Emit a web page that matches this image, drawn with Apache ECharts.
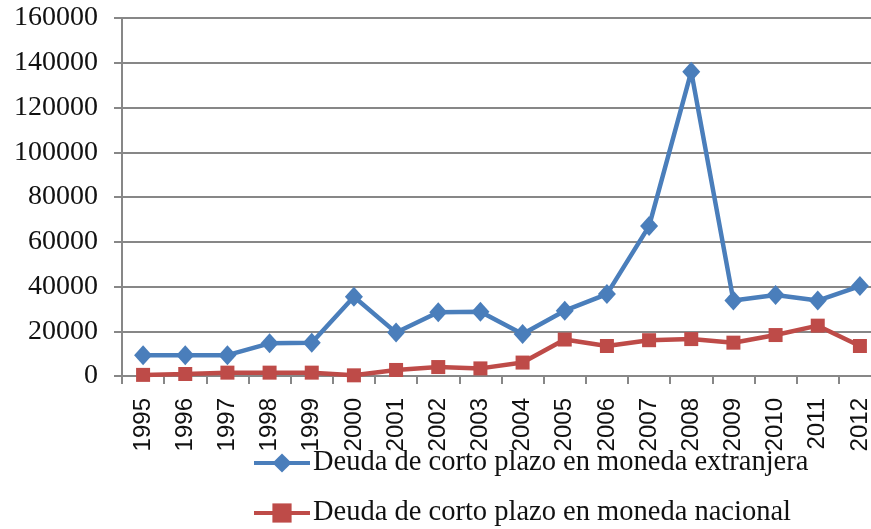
<!DOCTYPE html>
<html>
<head>
<meta charset="utf-8">
<script src="https://cdn.jsdelivr.net/npm/echarts@6/dist/echarts.min.js"></script>
<style>
  html, body { margin: 0; padding: 0; background: #fff; overflow: hidden; }
  #chart { width: 890px; height: 580px; }
</style>
</head>
<body>
<div id="chart"></div>
<script>
const years = ['1995','1996','1997','1998','1999','2000','2001','2002','2003',
  '2004','2005','2006','2007','2008','2009','2010','2011','2012'];
const extranjera = [9300, 9300, 9300, 14600, 14900, 35400, 19400, 28500, 28700,
  18800, 29200, 36600, 67000, 136000, 33700, 36200, 33700, 40200];
const nacional = [500, 900, 1500, 1500, 1500, 300, 2700, 4000, 3400,
  6000, 16300, 13400, 16000, 16500, 14900, 18300, 22500, 13400];
const yTicks = { min: 0, max: 160000, interval: 20000 };

const gray = '#878787';
const chart = echarts.init(document.getElementById('chart'));

chart.setOption({
  animation: false,
  // plot spans x 122..881, y 18..376 (the right edge is cut off by the window)
  grid: { left: 122, top: 18, width: 759, height: 358, containLabel: false },
  legend: {
    orient: 'vertical',
    left: 247,
    top: 443,
    itemWidth: 56,
    itemHeight: 24,
    itemGap: 20,
    selectedMode: false,
    lineStyle: { width: 4 },
    textStyle: { fontFamily: 'Liberation Serif', fontSize: 28.5, lineHeight: 30, color: '#111', padding: [0, 0, 0, -2] },
    data: ['Deuda de corto plazo en moneda extranjera', 'Deuda de corto plazo en moneda nacional']
  },
  xAxis: {
    type: 'category',
    data: years,
    boundaryGap: true,
    axisLine: { lineStyle: { color: gray, width: 2 } },
    axisTick: { show: true, length: 8, lineStyle: { color: gray, width: 2 } },
    axisLabel: {
      rotate: 90,
      margin: 22,
      interval: 0,
      fontFamily: 'Liberation Sans',
      fontSize: 24,
      color: '#111'
    }
  },
  yAxis: {
    type: 'value',
    min: yTicks.min,
    max: yTicks.max,
    interval: yTicks.interval,
    axisLine: { show: true, lineStyle: { color: gray, width: 2 } },
    axisTick: { show: true, length: 8, lineStyle: { color: gray, width: 2 } },
    splitLine: { lineStyle: { color: gray, width: 2 } },
    axisLabel: {
      margin: 24,
      fontFamily: 'Liberation Serif',
      fontSize: 28,
      color: '#111',
      formatter: v => String(v)
    }
  },
  series: [
    {
      name: 'Deuda de corto plazo en moneda extranjera',
      type: 'line',
      data: extranjera,
      symbol: 'diamond',
      symbolSize: [18, 20],
      color: '#4A7EBB',
      lineStyle: { width: 4.5 },
      itemStyle: { color: '#4A7EBB' }
    },
    {
      name: 'Deuda de corto plazo en moneda nacional',
      type: 'line',
      data: nacional,
      symbol: 'rect',
      symbolSize: 14,
      color: '#BE4B48',
      lineStyle: { width: 4.5 },
      itemStyle: { color: '#BE4B48' }
    }
  ]
});
</script>
</body>
</html>
